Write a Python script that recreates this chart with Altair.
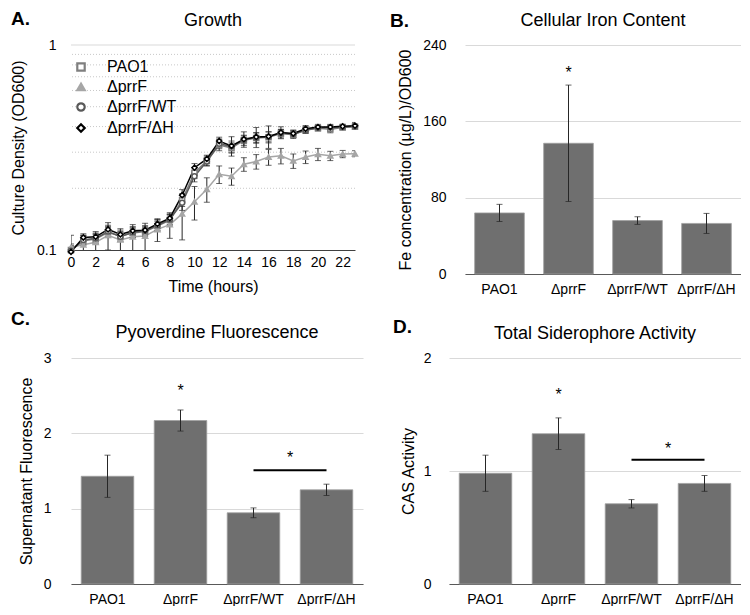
import altair as alt
import pandas as pd

FONT = "Liberation Sans"

# ---------------- Panel A data (Growth) ----------------
hours = list(range(24))
series_names = ["PAO1", "ΔprrF", "ΔprrF/WT", "ΔprrF/ΔH"]
series_colors = ["#7f7f7f", "#a6a6a6", "#595959", "#000000"]
series_fills = ["#ffffff", "#a6a6a6", "#ffffff", "#ffffff"]
series_shapes = ["square", "triangle-up", "circle", "diamond"]

pao1_od = [0.100, 0.111, 0.113, 0.122, 0.117, 0.121, 0.123, 0.131, 0.140, 0.175, 0.238, 0.272,
           0.325, 0.315, 0.343, 0.352, 0.355, 0.370, 0.365, 0.385, 0.393, 0.388, 0.396, 0.399]
prrf_od = [0.103, 0.106, 0.109, 0.118, 0.112, 0.116, 0.117, 0.126, 0.133, 0.150, 0.172, 0.198,
           0.234, 0.229, 0.262, 0.270, 0.284, 0.288, 0.272, 0.284, 0.293, 0.288, 0.294, 0.295]
wt_od = [0.099, 0.112, 0.114, 0.123, 0.116, 0.122, 0.124, 0.132, 0.141, 0.170, 0.229, 0.270,
         0.330, 0.320, 0.345, 0.354, 0.357, 0.372, 0.368, 0.384, 0.395, 0.396, 0.398, 0.401]
dh_od = [0.098, 0.115, 0.116, 0.126, 0.119, 0.124, 0.125, 0.134, 0.143, 0.185, 0.252, 0.278,
         0.340, 0.322, 0.347, 0.356, 0.358, 0.374, 0.370, 0.390, 0.398, 0.398, 0.401, 0.404]

pao1_err = [0.007, 0.006, 0.006, 0.007, 0.006, 0.006, 0.006, 0.007, 0.008, 0.012, 0.015, 0.015,
            0.020, 0.018, 0.020, 0.020, 0.022, 0.018, 0.015, 0.015, 0.012, 0.015, 0.010, 0.012]
prrf_err = [0.015, 0.012, 0.014, 0.018, 0.015, 0.017, 0.018, 0.016, 0.019, 0.038, 0.032, 0.027,
            0.023, 0.022, 0.020, 0.022, 0.025, 0.025, 0.022, 0.020, 0.020, 0.015, 0.012, 0.010]
wt_err = [0.006, 0.006, 0.006, 0.007, 0.006, 0.007, 0.007, 0.008, 0.008, 0.014, 0.014, 0.012,
          0.018, 0.020, 0.015, 0.020, 0.020, 0.015, 0.014, 0.012, 0.010, 0.010, 0.010, 0.012]
dh_err = [0.005, 0.005, 0.005, 0.006, 0.006, 0.006, 0.006, 0.007, 0.007, 0.012, 0.012, 0.012,
          0.015, 0.035, 0.030, 0.040, 0.045, 0.025, 0.015, 0.015, 0.012, 0.012, 0.010, 0.015]

minor_grid = [0.2, 0.3, 0.4, 0.5, 0.6, 0.7, 0.8, 0.9]
major_grid = [1.0]
x_ticks_a = list(range(0, 23, 2))

# ---------------- Bar panels data ----------------
strains = ["PAO1", "ΔprrF", "ΔprrF/WT", "ΔprrF/ΔH"]

iron_vals = [64, 137, 56, 53]
iron_errs = [9, 61, 4, 10.5]

pvd_vals = [1.43, 2.17, 0.945, 1.25]
pvd_errs = [0.28, 0.14, 0.065, 0.075]

cas_vals = [0.98, 1.33, 0.71, 0.89]
cas_errs = [0.16, 0.14, 0.037, 0.07]

# ---------------- Layout sizes ----------------
A_W, A_H = 284, 205
B_W, B_H = 276, 229
C_W, C_H = 292, 226
D_W, D_H = 292, 226

LABEL_EXPR = "'' + datum.value"

# ---------------- Panel A ----------------
rows = []
for name, vals, errs in zip(series_names,
                            [pao1_od, prrf_od, wt_od, dh_od],
                            [pao1_err, prrf_err, wt_err, dh_err]):
    for t, v, e in zip(hours, vals, errs):
        rows.append({"series": name, "time": t, "od": v, "lo": v - e, "hi": v + e})
growth = pd.DataFrame(rows)

xA_scale = alt.Scale(domain=[0, 23], nice=False)
yA_scale = alt.Scale(type="log", domain=[0.1, 1], nice=False)
xA_axis = alt.Axis(values=x_ticks_a, grid=False, ticks=False, domainColor="#404040",
                   labelPadding=5, title="Time (hours)", titlePadding=9, labelFlush=False)
yA_axis = alt.Axis(values=[0.1, 1], labelExpr=LABEL_EXPR, grid=False, ticks=False, domain=False,
                   labelPadding=15, title="Culture Density (OD600)", titlePadding=10)


def xa(field):
    return alt.X(field, type="quantitative", scale=xA_scale, axis=xA_axis)


def ya(field):
    return alt.Y(field, type="quantitative", scale=yA_scale, axis=yA_axis)


gridA_minor = alt.Chart(pd.DataFrame({"od": minor_grid})).mark_rule(
    color="#c8c8c8", strokeDash=[1, 2], strokeWidth=1).encode(y=ya("od"))
gridA_major = alt.Chart(pd.DataFrame({"od": major_grid})).mark_rule(
    color="#d9d9d9", strokeWidth=1).encode(y=ya("od"))

series_layers = []
for name, col in zip(series_names, series_colors):
    sub = growth[growth["series"] == name]
    series_layers.append(alt.Chart(sub).mark_line(strokeWidth=1.5, color=col, clip=True).encode(
        x=xa("time"), y=ya("od")))
    series_layers.append(alt.Chart(sub).mark_rule(color="#262626", strokeWidth=1, clip=True).encode(
        x=xa("time"), y=ya("lo"), y2="hi"))
    series_layers.append(alt.Chart(sub).mark_tick(color="#262626", orient="horizontal", size=6,
                                                  thickness=1, clip=True).encode(x=xa("time"), y=ya("lo")))
    series_layers.append(alt.Chart(sub).mark_tick(color="#262626", orient="horizontal", size=6,
                                                  thickness=1, clip=True).encode(x=xa("time"), y=ya("hi")))

legendA = alt.Legend(title=None, orient="none", legendX=2, legendY=14, labelFontSize=16,
                     labelFont=FONT, labelColor="#000000", symbolSize=55, symbolStrokeWidth=2.2,
                     labelOffset=18, rowPadding=3, padding=0)
points = alt.Chart(growth).mark_point(filled=False, size=26, strokeWidth=1.5, opacity=1).encode(
    x=xa("time"), y=ya("od"),
    color=alt.Color("series:N", scale=alt.Scale(domain=series_names, range=series_colors),
                    legend=legendA, sort=series_names),
    shape=alt.Shape("series:N", scale=alt.Scale(domain=series_names, range=series_shapes),
                    legend=legendA, sort=series_names),
    fill=alt.Fill("series:N", scale=alt.Scale(domain=series_names, range=series_fills),
                  legend=legendA, sort=series_names),
)


def annot(text, x, y, size, bold=False, align="left"):
    return alt.Chart(pd.DataFrame({"t": [text]})).mark_text(
        align=align, baseline="alphabetic", font=FONT, fontSize=size,
        fontWeight="bold" if bold else "normal", color="#000000").encode(
        text="t:N", x=alt.value(x), y=alt.value(y))


panelA = alt.layer(
    gridA_minor, gridA_major, *series_layers, points,
    annot("Growth", A_W / 2, -19, 18, align="center"),
    annot("A.", -60, -20, 19, bold=True),
).properties(width=A_W, height=A_H)


# ---------------- Bar panels ----------------
def bar_panel(values, errs, domain, ticks, ytitle, title, label, W, H,
              label_xy, title_y, stars, sig=None, ylabpad=18, ytitpad=8):
    df = pd.DataFrame({"strain": strains, "value": values,
                       "lo": [v - e for v, e in zip(values, errs)],
                       "hi": [v + e for v, e in zip(values, errs)]})
    xs = alt.Scale(domain=strains, paddingInner=0.28, paddingOuter=0.14)
    xax = alt.Axis(title=None, ticks=False, labelAngle=0, domainColor="#595959",
                   labelPadding=8, grid=False)
    ys = alt.Scale(domain=domain, nice=False)
    yax = alt.Axis(values=ticks, labelExpr=LABEL_EXPR, grid=True, gridColor="#d9d9d9",
                   domain=False, ticks=False, labelPadding=ylabpad, title=ytitle,
                   titlePadding=ytitpad)

    def X(f):
        return alt.X(f, type="nominal", scale=xs, axis=xax, sort=strains)

    def Y(f):
        return alt.Y(f, type="quantitative", scale=ys, axis=yax)

    bars = alt.Chart(df).mark_bar(color="#6f6f6f", stroke="#a0a0a0", strokeWidth=0.8).encode(
        x=X("strain"), y=Y("value"))
    er = alt.Chart(df).mark_rule(color="#262626", strokeWidth=1).encode(
        x=X("strain"), y=Y("lo"), y2="hi")
    el = alt.Chart(df).mark_tick(color="#262626", orient="horizontal", size=6, thickness=1).encode(
        x=X("strain"), y=Y("lo"))
    eh = alt.Chart(df).mark_tick(color="#262626", orient="horizontal", size=6, thickness=1).encode(
        x=X("strain"), y=Y("hi"))
    layers = [bars, er, el, eh]

    sdf = pd.DataFrame(stars)
    step = W / (len(strains) - 0.28 + 2 * 0.14)
    star_center = alt.Chart(sdf[sdf["mid"] == 0]).mark_text(
        font=FONT, fontSize=16, baseline="alphabetic", dy=9, color="#000000").encode(
        x=X("strain"), y=Y("value"), text="s:N")
    layers.append(star_center)
    if (sdf["mid"] == 1).any():
        star_mid = alt.Chart(sdf[sdf["mid"] == 1]).mark_text(
            font=FONT, fontSize=16, baseline="alphabetic", dy=9, dx=step / 2,
            color="#000000").encode(x=X("strain"), y=Y("value"), text="s:N")
        layers.append(star_mid)
    if sig is not None:
        ldf = pd.DataFrame(sig)
        line = alt.Chart(ldf).mark_rule(color="#000000", strokeWidth=2).encode(
            x=X("a"), x2="b", y=Y("value"))
        layers.append(line)
    layers.append(annot(title, W / 2, title_y, 18, align="center"))
    layers.append(annot(label, label_xy[0], label_xy[1], 19, bold=True))
    return alt.layer(*layers).properties(width=W, height=H)


panelB = bar_panel(iron_vals, iron_errs, [0, 240], [0, 80, 160, 240],
                   "Fe concentration (µg/L)/OD600", "Cellular Iron Content", "B.",
                   B_W, B_H, (-75, -18), -19,
                   {"strain": ["ΔprrF"], "value": [215], "s": ["*"], "mid": [0]},
                   ylabpad=19, ytitpad=9)

panelC = bar_panel(pvd_vals, pvd_errs, [0, 3], [0, 1, 2, 3],
                   "Supernatant Fluorescence", "Pyoverdine Fluorescence", "C.",
                   C_W, C_H, (-60, -33), -20,
                   {"strain": ["ΔprrF", "ΔprrF/WT"], "value": [2.62, 1.72], "s": ["*", "*"],
                    "mid": [0, 1]},
                   sig={"a": ["ΔprrF/WT"], "b": ["ΔprrF/ΔH"], "value": [1.51]},
                   ylabpad=20, ytitpad=9)

panelD = bar_panel(cas_vals, cas_errs, [0, 2], [0, 1, 2],
                   "CAS Activity", "Total Siderophore Activity", "D.",
                   D_W, D_H, (-56, -25), -19,
                   {"strain": ["ΔprrF", "ΔprrF/WT"], "value": [1.71, 1.23], "s": ["*", "*"],
                    "mid": [0, 1]},
                   sig={"a": ["ΔprrF/WT"], "b": ["ΔprrF/ΔH"], "value": [1.10]},
                   ylabpad=18, ytitpad=7)

row1 = alt.hconcat(panelA, panelB, spacing=110, bounds="flush")
row2 = alt.hconcat(panelC, panelD, spacing=86, bounds="flush")

chart = alt.vconcat(row1, row2, spacing=14).properties(
    padding={"left": 2, "top": 2, "right": 0, "bottom": 0}
).configure_view(stroke=None).configure_axis(
    labelFont=FONT, titleFont=FONT, labelFontSize=14, titleFontSize=16,
    labelColor="#000000", titleColor="#000000", titleFontWeight="normal"
).configure_legend(labelFont=FONT)

chart.save("out.html", embed_options={"renderer": "svg", "actions": False})
